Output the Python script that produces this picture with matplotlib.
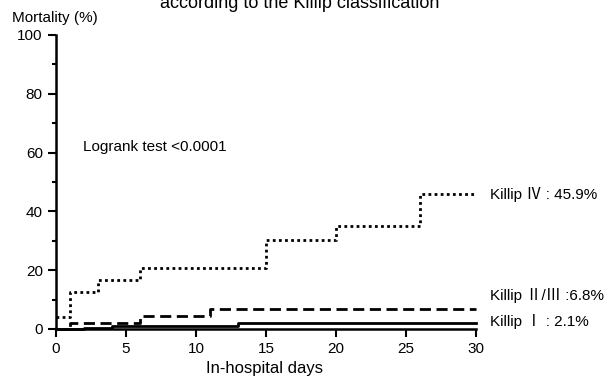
import matplotlib
matplotlib.use("Agg")
import matplotlib.pyplot as plt

plt.rcParams['font.family'] = ['Liberation Sans', 'Noto Sans CJK JP', 'DejaVu Sans']

# Data (step curves: value holds from day[i] to day[i+1])
k4_days = [0, 1, 3, 6, 15, 20, 26, 30]
k4_vals = [4.0, 12.5, 16.5, 20.8, 30.2, 35.0, 45.9, 45.9]
k23_days = [0, 1, 6, 11, 30]
k23_vals = [0.0, 2.0, 4.3, 6.8, 6.8]
k1_days = [0, 2, 4, 13, 30]
k1_vals = [0.0, 0.5, 1.1, 2.1, 2.1]

labels = ["Killip \u2163 : 45.9%", "Killip \u2161/\u2162 :6.8%", "Killip \u2160 : 2.1%"]
xticks = [0, 5, 10, 15, 20, 25, 30]
yticks = [0, 20, 40, 60, 80, 100]

fig = plt.figure(figsize=(6.09, 3.78), dpi=100)
ax = fig.add_axes([56/609, 49/378, (476-56)/609, (329-35)/378])

ax.step(k4_days, k4_vals, where='post', color='black', lw=2, ls=(0, (1, 1.2)), clip_on=False)
ax.step(k23_days, k23_vals, where='post', color='black', lw=2, ls=(0, (4, 2)), clip_on=False)
ax.step(k1_days, k1_vals, where='post', color='black', lw=2, ls='-', clip_on=False)

ax.set_xlim(0, 30)
ax.set_ylim(0, 100)
ax.set_xticks(xticks)
ax.set_yticks(yticks)
ax.set_yticks([10, 30, 50, 70, 90], minor=True)
ax.tick_params(axis='both', which='major', length=6, width=1.5, labelsize=11, direction='out')
ax.tick_params(axis='y', which='minor', length=3, width=1.5)
for s in ['top', 'right']:
    ax.spines[s].set_visible(False)
for s in ['left', 'bottom']:
    ax.spines[s].set_linewidth(1.8)

ax.text(1.9, 62, "Logrank test <0.0001", fontsize=11, va='center')
for lab, y in zip(labels, [45.9, 11.4, 2.5]):
    ax.text(31.0, y, lab, fontsize=11, va='center', clip_on=False)

fig.text(12/609, 1 - 18/378, "Mortality (%)", fontsize=11, va='center', ha='left')
fig.text(265/609, 1 - 369/378, "In-hospital days", fontsize=12, va='center', ha='center')
fig.text(300/609, 1 - 8/378, "according to the Killip classification", fontsize=13,
         va='baseline', ha='center')

fig.savefig("out.png", dpi=100)
